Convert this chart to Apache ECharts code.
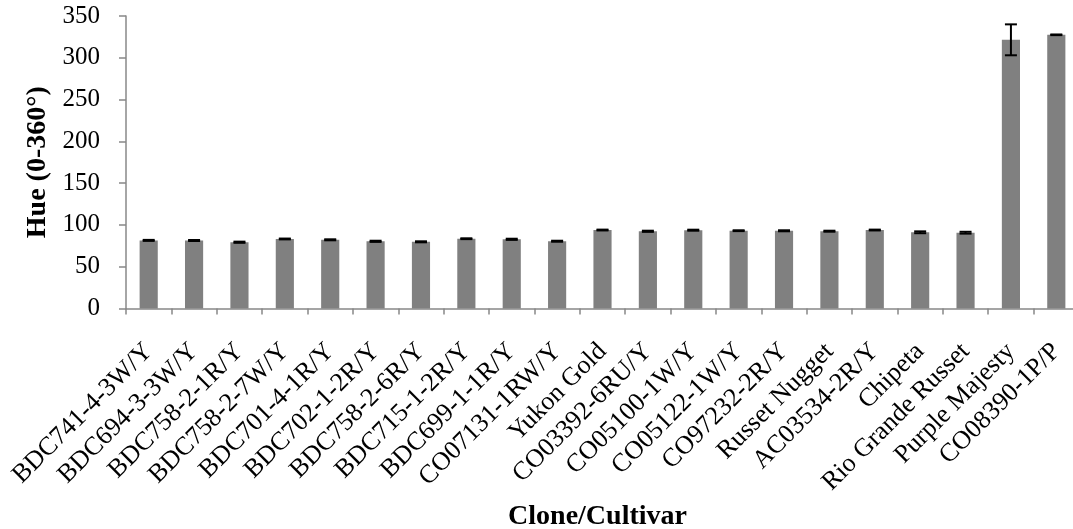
<!DOCTYPE html>
<html>
<head>
<meta charset="utf-8">
<script src="https://cdn.jsdelivr.net/npm/echarts@6/dist/echarts.min.js"></script>
<style>html,body{margin:0;padding:0;background:#fff;}#c{width:1073px;height:529px;}</style>
</head>
<body>
<div id="c"></div>
<script>
const categories = ['BDC741-4-3W/Y','BDC694-3-3W/Y','BDC758-2-1R/Y','BDC758-2-7W/Y','BDC701-4-1R/Y','BDC702-1-2R/Y','BDC758-2-6R/Y','BDC715-1-2R/Y','BDC699-1-1R/Y','CO07131-1RW/Y','Yukon Gold','CO03392-6RU/Y','CO05100-1W/Y','CO05122-1W/Y','CO97232-2R/Y','Russet Nugget','AC03534-2R/Y','Chipeta','Rio Grande Russet','Purple Majesty','CO08390-1P/P'];
const hueValues = [81.5, 81.4, 79.3, 83.2, 82.2, 80.4, 79.8, 83.5, 82.8, 80.5, 93.9, 92.4, 93.7, 93.1, 93.0, 92.5, 93.9, 91.2, 90.7, 321.5, 327.5];
const hueErrors = [0.6, 0.6, 0.7, 0.5, 0.6, 0.7, 0.6, 0.5, 0.7, 0.6, 0.5, 0.7, 0.6, 0.5, 0.6, 0.6, 0.5, 1.1, 1.1, 18.5, 0.4];
const yTicks = {min: 0, max: 350, interval: 50};
const xTitle = 'Clone/Cultivar';
const yTitle = 'Hue (0-360°)';

const serif = '"Liberation Serif","Times New Roman",serif';
const chart = echarts.init(document.getElementById('c'), null, {renderer: 'canvas'});
chart.setOption({
  animation: false,
  grid: {left: 126, top: 16, width: 953, height: 292.5, containLabel: false, outerBoundsMode: 'none'},
  xAxis: {
    type: 'category',
    data: categories,
    name: xTitle,
    nameLocation: 'middle',
    nameGap: 189,
    nameTextStyle: {fontFamily: serif, fontSize: 28, fontWeight: 'bold', color: '#000', padding: [0, 10, 0, 0]},
    axisLine: {lineStyle: {color: '#888', width: 1.5}},
    axisTick: {show: true, length: 6, inside: false, lineStyle: {color: '#888', width: 1.5}},
    axisLabel: {rotate: 45, interval: 0, margin: 39, fontFamily: serif, fontSize: 26, color: '#000'}
  },
  yAxis: {
    type: 'value',
    min: yTicks.min, max: yTicks.max, interval: yTicks.interval,
    name: yTitle,
    nameLocation: 'middle',
    nameGap: 72,
    nameRotate: 90,
    nameTextStyle: {fontFamily: serif, fontSize: 28, fontWeight: 'bold', color: '#000'},
    splitLine: {show: false},
    axisLine: {show: true, lineStyle: {color: '#888', width: 1.5}},
    axisTick: {show: true, length: 7, inside: false, lineStyle: {color: '#888', width: 1.5}},
    axisLabel: {margin: 26, fontFamily: serif, fontSize: 25, color: '#000'}
  },
  series: [
    {
      type: 'bar',
      data: hueValues,
      barWidth: '40%',
      itemStyle: {color: '#808080'},
      z: 2
    },
    {
      type: 'custom',
      data: hueValues.map((v, i) => [i, v, hueErrors[i]]),
      z: 5,
      renderItem: function (params, api) {
        const x = api.value(0), v = api.value(1), e = api.value(2);
        const hi = api.coord([x, v + e]);
        const lo = api.coord([x, v - e]);
        const hw = 6;
        const st = {stroke: '#000', lineWidth: 2};
        return {
          type: 'group',
          children: [
            {type: 'line', shape: {x1: hi[0], y1: hi[1], x2: lo[0], y2: lo[1]}, style: st},
            {type: 'line', shape: {x1: hi[0] - hw, y1: hi[1], x2: hi[0] + hw, y2: hi[1]}, style: st},
            {type: 'line', shape: {x1: lo[0] - hw, y1: lo[1], x2: lo[0] + hw, y2: lo[1]}, style: st}
          ]
        };
      }
    }
  ]
});
</script>
</body>
</html>
